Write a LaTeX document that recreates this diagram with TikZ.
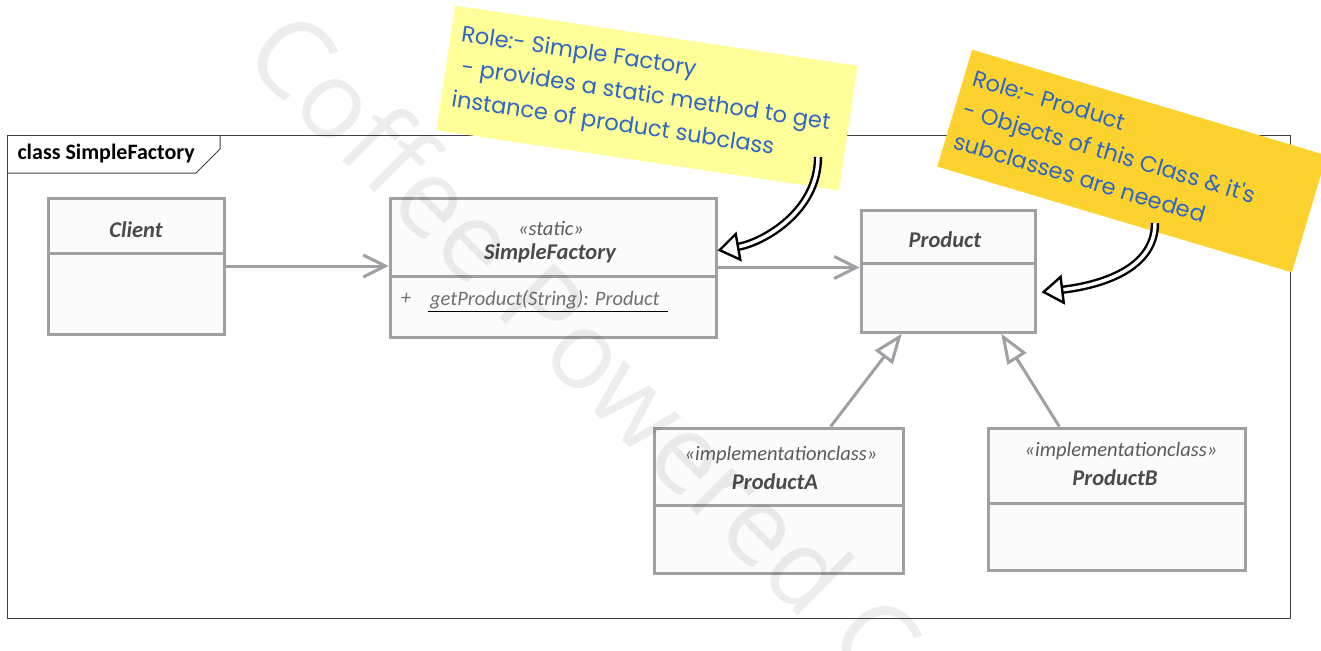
\documentclass[tikz,border=0pt]{standalone}
\usepackage{fontspec}
\setmainfont{Carlito}
\newfontfamily\notefont{Poppins}
\newfontfamily\markfont{Open Sans}
\usetikzlibrary{arrows.meta,calc}

\definecolor{boxgray}{HTML}{A0A0A4}
\definecolor{boxfill}{HTML}{FBFBFB}
\definecolor{nametext}{HTML}{4A4A4A}
\definecolor{stereotext}{HTML}{5A5A5A}
\definecolor{methodtext}{HTML}{707070}
\definecolor{framecol}{HTML}{404040}
\definecolor{notelight}{HTML}{FFFF99}
\definecolor{notedark}{HTML}{FCD22E}
\definecolor{notetextcol}{HTML}{2F66C4}

\tikzset{
  umlclass/.style={draw=boxgray, fill=boxfill, line width=3pt, inner sep=0pt},
  divider/.style={draw=boxgray, line width=3pt},
  classname/.style={font=\fontsize{22.5}{26}\selectfont\bfseries\itshape, text=nametext},
  stereo/.style={font=\fontsize{20.5}{24}\selectfont\itshape, text=stereotext},
  methodtext/.style={font=\fontsize{20.5}{24}\selectfont\itshape, text=methodtext, inner sep=0pt},
  assoc/.style={draw=boxgray, line width=3pt, -{Straight Barb[length=22pt,width=22pt,line width=3pt]}},
  general/.style={draw=boxgray, line width=3pt, -{Triangle[open,length=30pt,width=22pt,line width=3pt,fill=white]}},
  note/.style={inner sep=0pt, outer sep=0pt},
  notetext/.style={font=\notefont\fontsize{22.5}{33}\selectfont, text=notetextcol, align=left, inner sep=0pt},
  pointer/.style={draw=black, line width=2.4pt, double=white, double distance=3.5pt,
    -{Triangle[open,length=22pt,width=30pt,line width=2.4pt,fill=white]}}
}

\begin{document}
\begin{tikzpicture}[x=1pt,y=-1pt]
  \useasboundingbox (0,0) rectangle (1321,650);

  % frame
  \draw[framecol, line width=1pt] (7,135) rectangle (1290,618);
  \draw[framecol, line width=1pt] (7,173) -- (196,173) -- (220,149) -- (220,135);
  \node (frametitle) [anchor=west, font=\fontsize{22}{26}\selectfont\bfseries] at (14,154) {class SimpleFactory};

  % classes
  \node (client) [umlclass, minimum width=176pt, minimum height=136pt] at (136,266) {};
  \draw[divider] (client.west |- 0,253) -- (client.east |- 0,253);
  \node (clientname) [classname] at (136,230) {Client};

  \node (sf) [umlclass, minimum width=326pt, minimum height=139pt] at (553,267.5) {};
  \draw[divider] (sf.west |- 0,276) -- (sf.east |- 0,276);
  \node (sfstereo) [stereo] at (551,228) {«static»};
  \node (sfname) [classname] at (550,253) {SimpleFactory};
  \node (sfplus) [methodtext] at (406,299) {+};
  \node (sfmethod) [methodtext, anchor=base west] at (430,305) {getProduct(String): Product};
  \draw[methodtext, line width=1.5pt] ($(sfmethod.south west)+(-2,3)$) -- ($(sfmethod.south east)+(8,3)$);

  \node (product) [umlclass, minimum width=174pt, minimum height=122pt] at (948,271) {};
  \draw[divider] (product.west |- 0,263) -- (product.east |- 0,263);
  \node (productname) [classname] at (945,240) {Product};

  \node (pa) [umlclass, minimum width=249pt, minimum height=145pt] at (778.5,500.5) {};
  \draw[divider] (pa.west |- 0,505) -- (pa.east |- 0,505);
  \node (pastereo) [stereo] at (781,455) {«implementationclass»};
  \node (paname) [classname] at (775,482) {ProductA};

  \node (pb) [umlclass, minimum width=257pt, minimum height=142pt] at (1116.5,499) {};
  \draw[divider] (pb.west |- 0,503) -- (pb.east |- 0,503);
  \node (pbstereo) [stereo] at (1121,451) {«implementationclass»};
  \node (pbname) [classname] at (1115,478) {ProductB};

  % relations
  \draw[assoc] (client.east) -- (client.east -| sf.west);
  \draw[assoc] (sf.east) -- (sf.east -| product.west);
  \draw[general] ($(pa.north west)!0.707!(pa.north east)$) -- ($(product.south west)!0.24!(product.south east)$);
  \draw[general] ($(pb.north west)!0.28!(pb.north east)$) -- ($(product.south west)!0.8!(product.south east)$);

  % notes
  \node (factorynote) [note, fill=notelight, rotate=-8.5, minimum width=407pt, minimum height=126pt] at (647,98) {};
  \node (factorytext) [notetext, rotate=-8.5, anchor=north west] at (463,24)
    {Role:- Simple Factory\\\hspace{5pt}- provides a static method to get\\instance of product subclass};

  \node (productnote) [note, fill=notedark, rotate=-16.6, minimum width=370pt, minimum height=122pt] at (1132,161) {};
  \node (producttext) [notetext, rotate=-16.6, anchor=north west] at (976,69)
    {Role:- Product\\- Objects of this Class \& it's\\subclasses are needed};

  \coordinate (factorytail) at (818,157);
  \coordinate (producttail) at (1155,223);
  \draw[pointer] (factorytail) .. controls +(0,55) and +(45,-8) .. ($(sf.north east)!0.38!(sf.south east)$);
  \draw[pointer] (producttail) .. controls +(0,50) and +(50,-6) .. ($(product.north east)!0.67!(product.south east)+(5,0)$);

  % watermark
  \node (watermark) [rotate=-45, anchor=base west, font=\markfont\fontsize{108}{108}\selectfont, text=black, opacity=0.07] at (238,56) {Coffee Powered C};
\end{tikzpicture}
\end{document}
